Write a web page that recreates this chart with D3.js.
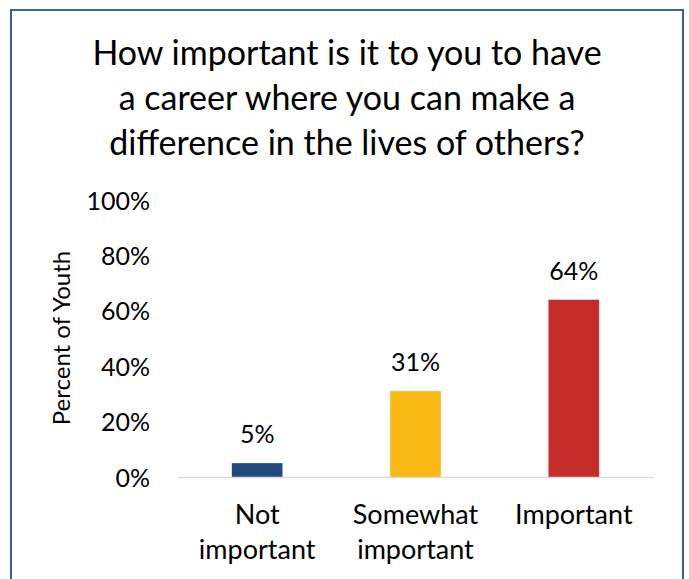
<!DOCTYPE html>
<html><head><meta charset="utf-8">
<script src="https://cdn.jsdelivr.net/npm/d3@7/dist/d3.min.js"></script>
<style>body{margin:0;background:#fff;}svg{display:block;}</style>
</head><body>
<svg id="c" width="689" height="579"></svg>
<script>
const titleLines = ["How important is it to you to have", "a career where you can make a", "difference in the lives of others?"];
const categories = [["Not", "important"], ["Somewhat", "important"], ["Important"]];
const values = [5, 31, 64];
const colors = ["#234a7f", "#fbb916", "#c42d28"];
const yTicks = [0, 20, 40, 60, 80, 100];
const yLabel = "Percent of Youth";

const font = "Lato, 'Open Sans', sans-serif";
const svg = d3.select("#c");
svg.append("rect").attr("x", 11).attr("y", 10).attr("width", 672).attr("height", 600)
  .attr("fill", "#fff").attr("stroke", "#3b5f93").attr("stroke-width", 2);

const x = d3.scaleBand().domain(d3.range(categories.length)).range([178, 653]).paddingInner(0.68).paddingOuter(0.34);
const y = d3.scaleLinear().domain([0, 100]).range([477, 200]);

const t = svg.append("text").attr("text-anchor", "middle").attr("font-family", font).attr("font-size", 34).attr("fill", "#000");
titleLines.forEach((l, i) => t.append("tspan").attr("x", 347).attr("y", 65 + i * 45).text(l));

const ya = svg.append("g").attr("transform", "translate(150,0)")
  .call(d3.axisLeft(y).tickValues(yTicks).tickFormat(d => d + "%").tickSize(0).tickPadding(0));
ya.select(".domain").remove();
ya.selectAll("text").attr("font-family", font).attr("font-size", 25).attr("fill", "#000").attr("dy", "0.36em");

svg.append("text").attr("transform", "translate(70,338) rotate(-90)").attr("text-anchor", "middle")
  .attr("font-family", font).attr("font-size", 24).attr("fill", "#000").text(yLabel);

svg.selectAll(".bar").data(values).join("rect").attr("class", "bar")
  .attr("x", (d, i) => x(i)).attr("width", x.bandwidth())
  .attr("y", d => y(d)).attr("height", d => y(0) - y(d)).attr("fill", (d, i) => colors[i]);

svg.append("line").attr("x1", 178).attr("x2", 653).attr("y1", y(0) + 0.5).attr("y2", y(0) + 0.5)
  .attr("stroke", "#d9d9d9").attr("stroke-width", 1.5);

svg.selectAll(".lbl").data(values).join("text").attr("class", "lbl")
  .attr("x", (d, i) => x(i) + x.bandwidth() / 2).attr("y", d => y(d) - 20)
  .attr("text-anchor", "middle").attr("font-family", font).attr("font-size", 25).attr("fill", "#000")
  .text(d => d + "%");

categories.forEach((c, i) => {
  const tx = svg.append("text").attr("text-anchor", "middle").attr("font-family", font).attr("font-size", 27).attr("fill", "#000");
  c.forEach((l, j) => tx.append("tspan").attr("x", x(i) + x.bandwidth() / 2).attr("y", 524 + j * 35).text(l));
});
</script>
</body></html>
